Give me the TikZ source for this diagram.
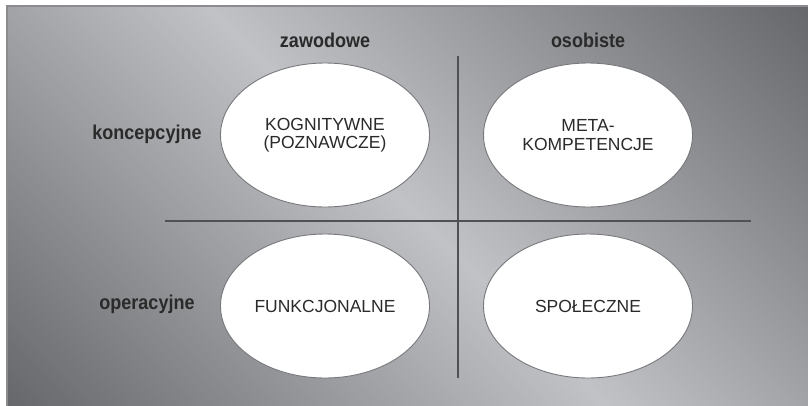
\documentclass[tikz,border=0pt]{standalone}
\usepackage{fontspec}
\setmainfont{Liberation Sans}
\usepackage{graphicx}
\usetikzlibrary{shapes.geometric}

\definecolor{bgdark}{HTML}{66676B}
\definecolor{bglight}{HTML}{C1C2C6}
\definecolor{framegray}{HTML}{8C8C8E}
\definecolor{divider}{HTML}{505155}
\definecolor{rimgray}{HTML}{77787C}
\definecolor{inkgray}{HTML}{2A2A2A}

% dark corners (bottom-left, top-right), light band along the other diagonal
\pgfdeclarehorizontalshading{diagband}{100bp}{%
  color(0bp)=(bgdark); color(14.6bp)=(bgdark); color(50bp)=(bglight);
  color(85.4bp)=(bgdark); color(100bp)=(bgdark)}

\tikzset{
  area/.style={font=\fontsize{17.5}{18.4}\selectfont, text=inkgray,
    shape=ellipse, fill=white, draw=rimgray, line width=0.9pt,
    minimum width=209pt, minimum height=144pt, inner sep=0pt, align=center},
  axislabel/.style={font=\fontsize{20}{22}\selectfont\bfseries, text=inkgray,
    anchor=base, inner sep=0pt},
  divline/.style={draw=divider, line width=1.8pt}
}

\begin{document}
\begin{tikzpicture}[x=1pt, y=-1pt]
  \useasboundingbox (0,0) rectangle (808,405);
  \begin{scope}
    \clip (0,0) rectangle (808,405);
    \shade[shading=diagband, shading angle=45] (7,6) rectangle (812,409);
    \draw[framegray, line width=2pt] (7,409) -- (7,6) -- (812,6);
  \end{scope}

  % column and row headings
  \node[axislabel] (zaw) at (325,47.7) {\scalebox{0.9}[1]{zawodowe}};
  \node[axislabel] (oso) at (588,47.7) {\scalebox{0.9}[1]{osobiste}};
  \node[axislabel] (kon) at (147,139) {\scalebox{0.9}[1]{koncepcyjne}};
  \node[axislabel] (ope) at (147,309) {\scalebox{0.9}[1]{operacyjne}};

  % quadrant dividers
  \coordinate (vtop) at (458,56);
  \coordinate (vbot) at (458,378);
  \coordinate (hleft) at (165,221);
  \coordinate (hright) at (751,221);
  \draw[divline] (vtop) -- (vbot);
  \draw[divline] (hleft) -- (hright);

  % the four competence areas
  \node[area] (kog) at (325,135) {KOGNITYWNE\\(POZNAWCZE)};
  \node[area] (meta) at (588,135) {META-\\KOMPETENCJE};
  \node[area] (fun) at (325,306) {FUNKCJONALNE};
  \node[area] (spo) at (588,306) {SPOŁECZNE};
\end{tikzpicture}
\end{document}
